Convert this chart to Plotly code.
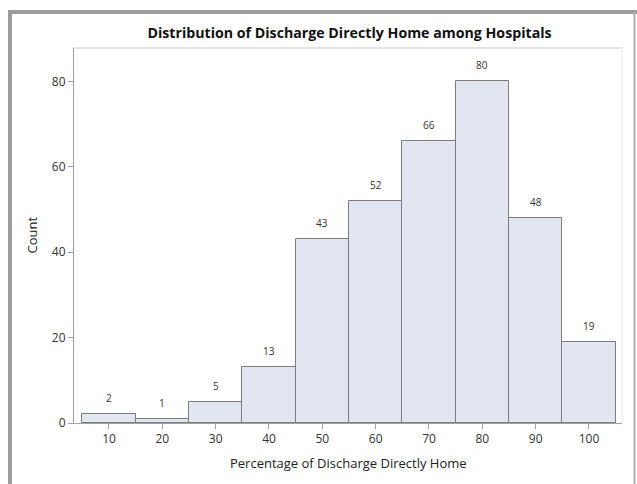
import plotly.graph_objects as go

# Data
bin_centers = [10, 20, 30, 40, 50, 60, 70, 80, 90, 100]
counts = [2, 1, 5, 13, 43, 52, 66, 80, 48, 19]
x_ticks = [10, 20, 30, 40, 50, 60, 70, 80, 90, 100]
y_ticks = [0, 20, 40, 60, 80]

title_text = "Distribution of Discharge Directly Home among Hospitals"
x_title = "Percentage of Discharge Directly Home"
y_title = "Count"

FONT = "Open Sans, DejaVu Sans, sans-serif"

fig = go.Figure()
fig.add_trace(go.Bar(
    x=bin_centers, y=counts, width=10,
    marker=dict(color="#e1e6f0", line=dict(color="#7c7c7c", width=1)),
    hoverinfo="x+y",
))

annotations = []
for xc, c in zip(bin_centers, counts):
    annotations.append(dict(
        x=xc, y=c, xref="x", yref="y", text=str(c), showarrow=False,
        yanchor="middle", yshift=16, font=dict(family=FONT, size=10, color="#333333"),
    ))

W, H = 637, 484
L, R, T, B = 74, 15, 48, 61
pw, ph = W - L - R, H - T - B

def px(xp):
    return (xp - L) / pw

def py(yp):
    return (H - B - yp) / ph

annotations.append(dict(
    x=px(31), y=0.5, xref="paper", yref="paper", text=y_title, textangle=-90,
    showarrow=False, xanchor="center", yanchor="middle",
    font=dict(family=FONT, size=13, color="#222222"),
))
annotations.append(dict(
    x=0.5, y=py(463), xref="paper", yref="paper", text=x_title,
    showarrow=False, xanchor="center", yanchor="middle",
    font=dict(family=FONT, size=13, color="#222222"),
))

shapes = [
    # plot frame top and right
    dict(type="line", xref="paper", yref="paper", x0=0, x1=1, y0=1, y1=1,
         line=dict(color="#c8c8c8", width=1)),
    dict(type="line", xref="paper", yref="paper", x0=1, x1=1, y0=0, y1=1,
         line=dict(color="#e8e8e8", width=1)),
    # outer screenshot border
    dict(type="line", xref="paper", yref="paper", x0=px(8), x1=px(640), y0=py(12), y1=py(12),
         line=dict(color="#9c9c9c", width=4)),
    dict(type="line", xref="paper", yref="paper", x0=px(10), x1=px(10), y0=py(10), y1=py(490),
         line=dict(color="#9c9c9c", width=4)),
    dict(type="line", xref="paper", yref="paper", x0=px(634.5), x1=px(634.5), y0=py(12), y1=py(490),
         line=dict(color="#b0b0b0", width=2)),
]

fig.update_layout(
    width=W, height=H,
    margin=dict(l=L, r=R, t=T, b=B, autoexpand=False),
    paper_bgcolor="white", plot_bgcolor="white",
    bargap=0, showlegend=False,
    title=dict(text="<b>" + title_text + "</b>", x=px(349.5), xref="paper",
               y=1 - 33 / H, yanchor="middle", xanchor="center",
               font=dict(family=FONT, size=14.2, color="#111111")),
    font=dict(family=FONT, size=12, color="#333333"),
    xaxis=dict(range=[3.44, 106.19], tickmode="array", tickvals=x_ticks,
               showgrid=False, zeroline=False, showline=True, linecolor="#a0a0a0",
               linewidth=1, ticks="outside", ticklen=5, tickcolor="#a0a0a0",
               tickfont=dict(family=FONT, size=12, color="#333333")),
    yaxis=dict(range=[0, 87.8], tickmode="array", tickvals=y_ticks,
               showgrid=False, zeroline=False, showline=True, linecolor="#a0a0a0",
               linewidth=1, ticks="outside", ticklen=5, tickcolor="#a0a0a0",
               tickfont=dict(family=FONT, size=12, color="#333333")),
    annotations=annotations,
    shapes=shapes,
)

fig.write_html("out.html", config={"displayModeBar": False},
               post_script="document.body.style.margin='0';document.body.style.overflow='hidden';")
